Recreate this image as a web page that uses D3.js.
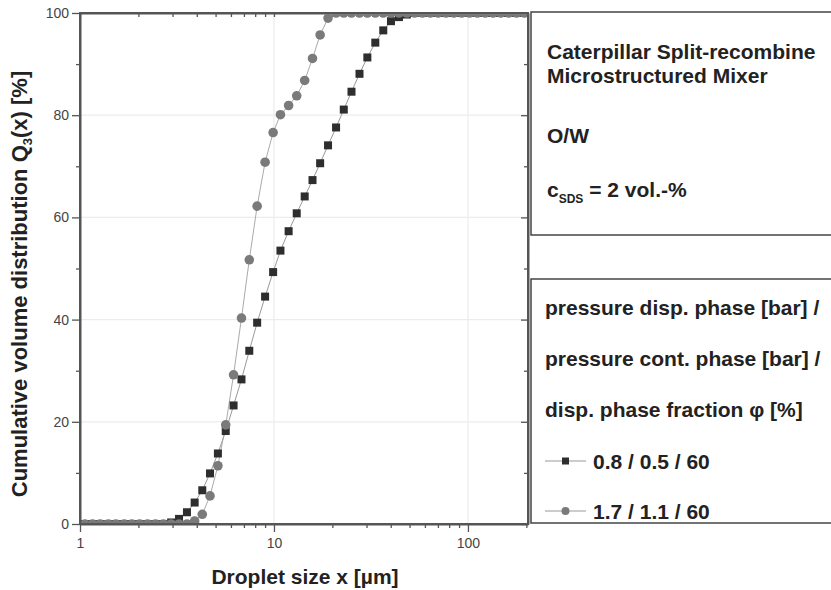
<!DOCTYPE html>
<html>
<head>
<meta charset="utf-8">
<script src="https://cdn.jsdelivr.net/npm/d3@7"></script>
<style>
  body { margin: 0; background: #fff; overflow: hidden; }
  svg text { font-family: "Liberation Sans", Arial, Helvetica, sans-serif; }
</style>
</head>
<body>
<div id="container"></div>
<script>
/* DATA */
// droplet size classes [µm]
const sizes = [1.06, 1.16, 1.27, 1.40, 1.53, 1.69, 1.85, 2.03, 2.23, 2.45, 2.69, 2.95,
  3.24, 3.56, 3.90, 4.27, 4.68, 5.14, 5.64, 6.19, 6.80, 7.46, 8.19, 9.0, 9.9, 10.8,
  11.9, 13.1, 14.4, 15.8, 17.3, 19.0, 20.9, 22.9, 25.1, 27.6, 30.3, 33.3, 36.6, 40.1,
  44.1, 48.4, 53.1, 58.3, 64.0, 70.2, 77.1, 84.6, 92.8, 101.9, 111.8, 122.7, 134.7,
  147.8, 162.3, 178.1, 195.5];
// 0.8 / 0.5 / 60  (squares)
const q3Squares = [0, 0, 0, 0, 0, 0, 0, 0, 0, 0, 0, 0.3,
  1.0, 2.3, 4.2, 6.6, 9.9, 13.8, 18.2, 23.2, 28.3, 33.9, 39.4, 44.5, 49.3, 53.5,
  57.3, 60.8, 64.1, 67.3, 70.6, 74.1, 77.6, 81.1, 84.6, 88.1, 91.3, 94.2, 96.6, 98.4,
  99.2, 99.7, 100, 100, 100, 100, 100, 100, 100, 100, 100, 100, 100,
  100, 100, 100, 100];
// 1.7 / 1.1 / 60  (circles)
const q3Circles = [0, 0, 0, 0, 0, 0, 0, 0, 0, 0, 0, 0,
  0, 0, 0.6, 1.9, 5.5, 11.4, 19.4, 29.2, 40.3, 51.7, 62.2, 70.8, 76.6, 80.1,
  81.9, 83.8, 86.8, 91.1, 95.7, 99.0, 100, 100, 100, 100, 100, 100, 100, 100,
  100, 100, 100, 100, 100, 100, 100, 100, 100, 100, 100, 100, 100,
  100, 100, 100, 100];
const seriesNames = ["0.8 / 0.5 / 60", "1.7 / 1.1 / 60"];
const xMajor = [1, 10, 100];
const xMinor = [2, 3, 4, 5, 6, 7, 8, 9, 20, 30, 40, 50, 60, 70, 80, 90, 200];
const yMajor = [0, 20, 40, 60, 80, 100];
const yMinor = [10, 30, 50, 70, 90];

/* CONSTANTS */
const width = 831, height = 590;
const plot = { left: 80, right: 528, top: 13, bottom: 524 };
const axisColor = "#555";
const textColor = "#222";
const boxFont = 21;

const svg = d3.select("#container").append("svg")
  .attr("width", width)
  .attr("height", height)
  .style("display", "block");

const x = d3.scaleLog().domain([1, 204]).range([plot.left, plot.right]);
const y = d3.scaleLinear().domain([0, 100]).range([plot.bottom, plot.top]);

svg.append("clipPath").attr("id", "clip")
  .append("rect")
  .attr("x", plot.left).attr("y", plot.top)
  .attr("width", plot.right - plot.left).attr("height", plot.bottom - plot.top);

// grid
svg.append("g").selectAll("line.gy")
  .data(yMajor.slice(1, -1))
  .join("line")
  .attr("x1", plot.left).attr("x2", plot.right)
  .attr("y1", d => y(d)).attr("y2", d => y(d))
  .attr("stroke", "#ececec").attr("stroke-width", 1.2);
svg.append("g").selectAll("line.gx")
  .data([10, 100])
  .join("line")
  .attr("y1", plot.top).attr("y2", plot.bottom)
  .attr("x1", d => x(d)).attr("x2", d => x(d))
  .attr("stroke", "#ececec").attr("stroke-width", 1.2);

// axes
function styleAxis(g) {
  g.selectAll(".domain").attr("stroke", axisColor).attr("stroke-width", 2);
  g.selectAll(".tick line").attr("stroke", axisColor).attr("stroke-width", 1.3);
  g.selectAll(".tick text").attr("fill", "#444").attr("font-size", 14);
}

svg.append("g").attr("transform", `translate(0,${plot.bottom})`)
  .call(d3.axisBottom(x).tickValues(xMajor).tickSize(8).tickPadding(6).tickFormat(d3.format("d")).tickSizeOuter(0))
  .call(styleAxis);
svg.append("g").attr("transform", `translate(0,${plot.bottom})`)
  .call(d3.axisBottom(x).tickValues(xMinor).tickSize(4).tickFormat("").tickSizeOuter(0))
  .call(g => g.select(".domain").remove())
  .call(styleAxis);

svg.append("g").attr("transform", `translate(0,${plot.top})`)
  .call(d3.axisBottom(x).tickValues(xMajor.concat(xMinor)).tickSize(4).tickFormat("").tickSizeOuter(0))
  .call(styleAxis);

svg.append("g").attr("transform", `translate(${plot.left},0)`)
  .call(d3.axisLeft(y).tickValues(yMajor).tickSize(8).tickPadding(3).tickSizeOuter(0))
  .call(styleAxis);
svg.append("g").attr("transform", `translate(${plot.left},0)`)
  .call(d3.axisLeft(y).tickValues(yMinor).tickSize(4).tickFormat("").tickSizeOuter(0))
  .call(g => g.select(".domain").remove())
  .call(styleAxis);

svg.append("g").attr("transform", `translate(${plot.right},0)`)
  .call(d3.axisLeft(y).tickValues(yMajor).tickSize(7).tickFormat("").tickSizeOuter(0))
  .call(styleAxis);
svg.append("g").attr("transform", `translate(${plot.right},0)`)
  .call(d3.axisLeft(y).tickValues(yMinor).tickSize(4).tickFormat("").tickSizeOuter(0))
  .call(g => g.select(".domain").remove())
  .call(styleAxis);

// axis titles
svg.append("text")
  .attr("x", 305).attr("y", 584)
  .attr("text-anchor", "middle")
  .attr("font-size", 21).attr("font-weight", "bold").attr("fill", textColor)
  .text("Droplet size x [µm]");

const yTitle = svg.append("text")
  .attr("transform", "translate(27,284) rotate(-90)")
  .attr("text-anchor", "middle")
  .attr("font-size", 22).attr("font-weight", "bold").attr("fill", textColor);
yTitle.append("tspan").text("Cumulative volume distribution Q");
yTitle.append("tspan").attr("font-size", 13).attr("dy", 5).text("3");
yTitle.append("tspan").attr("dy", -5).text("(x) [%]");

// series
const squareData = sizes.map((s, i) => ({ x: s, y: q3Squares[i] }));
const circleData = sizes.map((s, i) => ({ x: s, y: q3Circles[i] }));
const line = d3.line().x(d => x(d.x)).y(d => y(d.y));

const plotG = svg.append("g").attr("clip-path", "url(#clip)");

plotG.append("path").datum(squareData)
  .attr("d", line).attr("fill", "none").attr("stroke", "#999").attr("stroke-width", 1);
plotG.append("path").datum(circleData)
  .attr("d", line).attr("fill", "none").attr("stroke", "#aaa").attr("stroke-width", 1);

plotG.selectAll("rect.sq")
  .data(squareData)
  .join("rect")
  .attr("class", "sq")
  .attr("x", d => x(d.x) - 4).attr("y", d => y(d.y) - 4)
  .attr("width", 8).attr("height", 8)
  .attr("fill", "#2e2e2e");

plotG.selectAll("circle.ci")
  .data(circleData)
  .join("circle")
  .attr("class", "ci")
  .attr("cx", d => x(d.x)).attr("cy", d => y(d.y))
  .attr("r", 4.8)
  .attr("fill", "#7a7a7a");

// redraw axis frame lines on top
svg.append("g").selectAll("line.frame")
  .data([
    [plot.left, plot.top, plot.right, plot.top],
    [plot.left, plot.bottom, plot.right, plot.bottom],
    [plot.left, plot.top, plot.left, plot.bottom],
    [plot.right, plot.top, plot.right, plot.bottom]
  ])
  .join("line")
  .attr("x1", d => d[0]).attr("y1", d => d[1]).attr("x2", d => d[2]).attr("y2", d => d[3])
  .attr("stroke", axisColor).attr("stroke-width", 2).attr("stroke-linecap", "square");

// boxes on the right run off the page edge: top, left and bottom sides only
function openBox(top, bottom) {
  svg.append("path")
    .attr("d", `M${width + 5},${top} H531 V${bottom} H${width + 5}`)
    .attr("fill", "none").attr("stroke", "#444").attr("stroke-width", 1.5);
}
openBox(12, 235);

const infoLines = [
  { t: "Caterpillar Split-recombine", y: 59 },
  { t: "Microstructured Mixer", y: 83 },
  { t: "O/W", y: 143 }
];
svg.selectAll("text.info")
  .data(infoLines)
  .join("text")
  .attr("class", "info")
  .attr("x", 547).attr("y", d => d.y)
  .attr("font-size", boxFont).attr("font-weight", "bold").attr("fill", textColor)
  .text(d => d.t);

const cText = svg.append("text")
  .attr("x", 547).attr("y", 197)
  .attr("font-size", boxFont).attr("font-weight", "bold").attr("fill", textColor);
cText.append("tspan").text("c");
cText.append("tspan").attr("font-size", 12).attr("dy", 6).text("SDS");
cText.append("tspan").attr("dy", -6).text(" = 2 vol.-%");

// legend box
openBox(279, 523);

const legendHead = [
  { t: "pressure disp. phase [bar] /", y: 315 },
  { t: "pressure cont. phase [bar] /", y: 366 },
  { t: "disp. phase fraction φ [%]", y: 417 }
];
svg.selectAll("text.lhead")
  .data(legendHead)
  .join("text")
  .attr("class", "lhead")
  .attr("x", 545).attr("y", d => d.y)
  .attr("font-size", boxFont).attr("font-weight", "bold").attr("fill", textColor)
  .text(d => d.t);

const legendY = [461, 511];
const legend = svg.selectAll("g.leg")
  .data(seriesNames)
  .join("g")
  .attr("class", "leg")
  .attr("transform", (d, i) => `translate(0,${legendY[i]})`);
legend.append("line")
  .attr("x1", 545).attr("x2", 586)
  .attr("stroke", "#999").attr("stroke-width", 1);
legend.filter((d, i) => i === 0).append("rect")
  .attr("x", 562).attr("y", -3.5).attr("width", 7).attr("height", 7).attr("fill", "#2e2e2e");
legend.filter((d, i) => i === 1).append("circle")
  .attr("cx", 565.5).attr("r", 4).attr("fill", "#7a7a7a");
legend.append("text")
  .attr("x", 593).attr("y", 8)
  .attr("font-size", boxFont).attr("font-weight", "bold").attr("fill", textColor)
  .text(d => d);
</script>
</body>
</html>
